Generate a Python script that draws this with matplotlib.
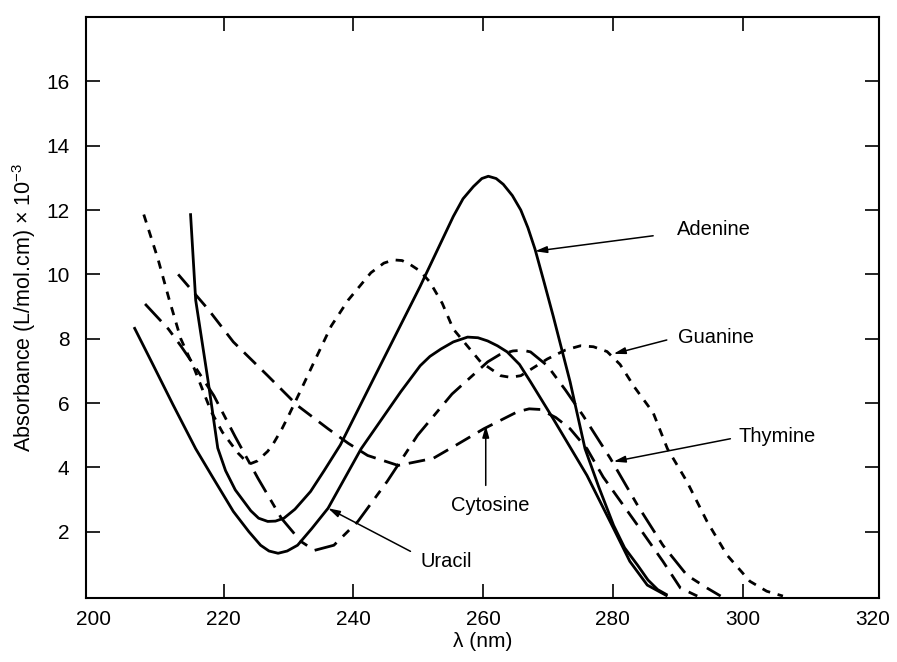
import matplotlib
matplotlib.use("Agg")
import matplotlib.pyplot as plt

plt.rcParams['font.family'] = ['Liberation Sans', 'DejaVu Sans']
plt.rcParams['mathtext.fontset'] = 'custom'
plt.rcParams['mathtext.rm'] = 'Liberation Sans'
plt.rcParams['mathtext.default'] = 'regular'

# wavelength (nm) / absorbance x 1e-3
adenine_x = [214.9, 215.7, 217.6, 219.1, 220.3, 221.8, 224.2, 225.4, 226.8, 228.0, 229.3, 231.0,
             233.4, 235.5, 238.0, 243.1, 250.3, 255.4, 256.9, 258.5, 259.8, 260.8, 262.0, 263.1,
             264.5, 265.8, 266.9, 268.0, 269.4, 270.8, 273.4, 275.7, 277.8, 280.1, 281.8, 283.8,
             285.4, 286.9, 288.4]
adenine_y = [11.9, 9.2, 6.7, 4.6, 3.9, 3.3, 2.65, 2.42, 2.32, 2.33, 2.42, 2.7,
             3.25, 3.9, 4.7, 6.75, 9.63, 11.8, 12.35, 12.73, 12.98, 13.05, 12.98, 12.8,
             12.45, 12.0, 11.45, 10.78, 9.75, 8.7, 6.66, 4.58, 3.4, 2.2, 1.5, 0.96,
             0.5, 0.2, 0.03]

uracil_x = [206.2, 209.1, 212.2, 215.7, 218.3, 221.5, 223.9, 225.7, 227.0, 228.4, 229.8, 231.4,
            233.6, 236.1, 241.2, 247.3, 250.3, 251.8, 253.5, 255.4, 257.6, 259.2, 260.7, 262.2,
            263.7, 265.6, 267.3, 270.8, 276.0, 280.1, 282.6, 285.3, 288.4]
uracil_y = [8.36, 7.2, 5.95, 4.58, 3.7, 2.63, 2.0, 1.58, 1.4, 1.33, 1.4, 1.58,
            2.1, 2.73, 4.58, 6.35, 7.16, 7.45, 7.68, 7.9, 8.05, 8.03, 7.93, 7.78,
            7.59, 7.2, 6.66, 5.51, 3.75, 2.1, 1.08, 0.34, 0.0]

guanine_x = [207.7, 209.9, 211.6, 213.4, 215.5, 218.1, 219.8, 222.2, 223.4, 224.2, 225.2, 226.8,
             227.7, 229.0, 230.0, 231.9, 234.0, 236.6, 239.2, 242.7, 244.7, 246.2, 247.5, 248.8,
             250.3, 251.8, 253.7, 255.4, 259.6, 262.7, 264.2, 265.8, 269.9, 272.7, 275.0, 277.0,
             279.1, 281.1, 283.3, 286.2, 288.4, 291.4, 294.5, 297.6, 301.1, 303.7, 306.2]
guanine_y = [11.86, 10.47, 9.23, 8.0, 7.06, 5.73, 5.1, 4.45, 4.2, 4.12, 4.2, 4.5,
             4.75, 5.2, 5.6, 6.4, 7.3, 8.4, 9.2, 10.05, 10.35, 10.45, 10.43, 10.3,
             10.1, 9.76, 9.1, 8.3, 7.28, 6.85, 6.8, 6.85, 7.37, 7.65, 7.78, 7.75,
             7.6, 7.2, 6.5, 5.7, 4.58, 3.56, 2.32, 1.27, 0.46, 0.15, 0.0]

cytosine_x = [213.0, 217.6, 221.5, 226.8, 231.4, 236.1, 239.2, 242.2, 246.9, 252.3, 255.9, 260.1,
              265.3, 267.1, 268.8, 271.2, 273.4, 276.0, 278.5, 283.8, 287.7, 290.4, 293.0]
cytosine_y = [10.0, 8.92, 7.9, 6.85, 5.92, 5.2, 4.75, 4.37, 4.06, 4.28, 4.7, 5.2,
              5.73, 5.82, 5.8, 5.55, 5.2, 4.58, 3.7, 2.2, 1.08, 0.25, 0.0]

thymine_x = [207.9, 211.5, 213.4, 215.5, 218.5, 221.8, 225.3, 228.9, 231.9, 234.0, 237.0, 240.7,
             245.2, 249.9, 255.2, 260.7, 262.5, 264.6, 266.1, 267.3, 269.9, 272.7, 275.4, 279.6,
             283.8, 287.7, 291.4, 294.5, 296.6]
thymine_y = [9.08, 8.3, 7.78, 7.16, 6.23, 4.95, 3.66, 2.42, 1.7, 1.42, 1.58, 2.32,
             3.56, 5.0, 6.28, 7.28, 7.5, 7.62, 7.64, 7.59, 7.16, 6.4, 5.61, 4.28,
             2.82, 1.58, 0.65, 0.25, 0.0]

inner_xticks = [220, 240, 260, 280, 300]
edge_xticks = [200, 320]
yticks = [2, 4, 6, 8, 10, 12, 14, 16]

fig = plt.figure(figsize=(8.97, 6.62), dpi=100)
ax = fig.add_axes([0.0959, 0.0967, 0.884, 0.8776])

lw = 2.0
ax.plot(adenine_x, adenine_y, color='black', lw=lw, solid_capstyle='butt')
ax.plot(uracil_x, uracil_y, color='black', lw=lw, solid_capstyle='butt')
ax.plot(guanine_x, guanine_y, color='black', lw=lw, dashes=(3.0, 2.8))
ax.plot(cytosine_x, cytosine_y, color='black', lw=lw, dashes=(6.0, 3.2))
ax.plot(thymine_x, thymine_y, color='black', lw=lw, dashes=(8.5, 3.2, 3.2, 3.2))

# labels with arrows
fs = 14.5
arrow = dict(arrowstyle='-|>,head_length=0.7,head_width=0.2', color='black', lw=1.1,
             shrinkA=0, shrinkB=0)
ax.annotate('', xy=(268.0, 10.72), xytext=(286.2, 11.2), arrowprops=arrow)
ax.text(289.9, 11.4, 'Adenine', fontsize=fs, va='center', ha='left')
ax.annotate('', xy=(280.1, 7.53), xytext=(288.3, 7.96), arrowprops=arrow)
ax.text(290.1, 8.05, 'Guanine', fontsize=fs, va='center', ha='left')
ax.annotate('', xy=(280.1, 4.18), xytext=(298.1, 4.89), arrowprops=arrow)
ax.text(299.3, 4.96, 'Thymine', fontsize=fs, va='center', ha='left')
ax.annotate('', xy=(260.4, 5.3), xytext=(260.4, 3.44), arrowprops=arrow)
ax.text(261.1, 2.82, 'Cytosine', fontsize=fs, va='center', ha='center')
ax.annotate('', xy=(236.1, 2.73), xytext=(248.8, 1.39), arrowprops=arrow)
ax.text(250.3, 1.08, 'Uracil', fontsize=fs, va='center', ha='left')

ax.set_xlim(198.8, 321.0)
ax.set_ylim(-0.06, 18.0)
ax.set_xticks(inner_xticks)
ax.set_xticks(edge_xticks, minor=True)
ax.set_xticklabels([str(v) for v in edge_xticks], minor=True)
ax.set_yticks(yticks)
ax.tick_params(direction='in', length=10, width=1.2, labelsize=15, top=True, right=True)
ax.tick_params(axis='x', which='minor', length=0, labelsize=15, pad=9, top=False)
ax.tick_params(axis='y', pad=12)
ax.tick_params(axis='x', which='major', pad=9)
for s in ax.spines.values():
    s.set_linewidth(1.5)

ax.set_xlabel('λ (nm)', fontsize=15, labelpad=2)
ax.set_ylabel(r'Absorbance (L/mol.cm) $\times$ 10$^{-3}$', fontsize=15.5, labelpad=6)

fig.savefig('out.png', dpi=100)
